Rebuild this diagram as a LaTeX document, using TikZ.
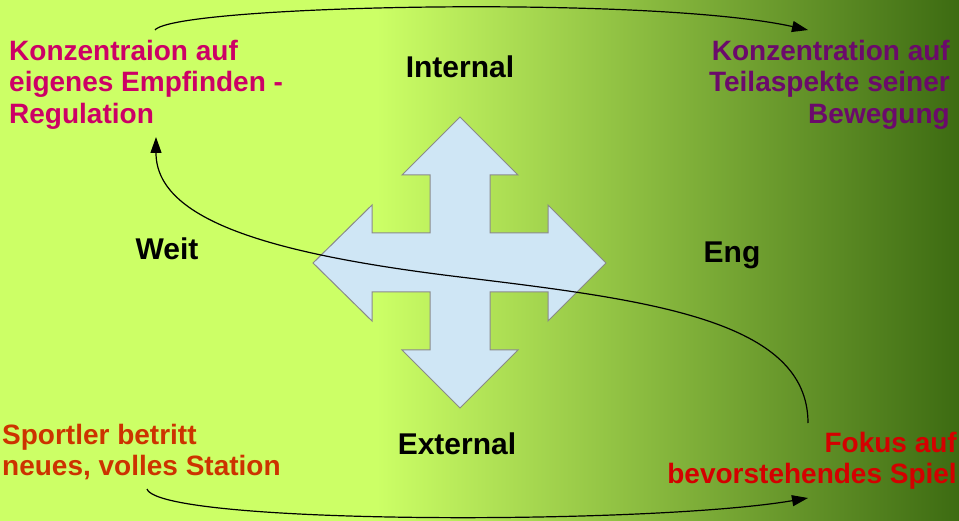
\documentclass[tikz,border=0pt]{standalone}
\usepackage{fontspec}
\setmainfont{Liberation Sans}
\usetikzlibrary{arrows.meta}
\definecolor{bgl}{HTML}{CCFF66}
\definecolor{bgr}{HTML}{3D6B12}
\definecolor{arrfill}{HTML}{CFE6F5}
\definecolor{arrline}{HTML}{8A8A8A}
\definecolor{cmag}{HTML}{CC0066}
\definecolor{cpur}{HTML}{6B0A6B}
\definecolor{corg}{HTML}{CC3300}
\definecolor{cred}{HTML}{D40000}
\tikzset{
  lbl/.style={font=\fontsize{30}{33}\selectfont\bfseries, inner sep=0pt, text=black},
  ctext/.style={font=\fontsize{28}{31.5}\selectfont\bfseries, inner sep=0pt},
  conn/.style={line width=1.2pt, -{Triangle[length=16pt,width=11pt]}},
}
\begin{document}
\begin{tikzpicture}[x=1pt,y=-1pt]
\useasboundingbox (0,0) rectangle (959,521);
\fill[bgl] (0,0) rectangle (378,521);
\shade[left color=bgl, right color=bgr] (377,0) rectangle (959,521);
% cross arrow
\draw[fill=arrfill, draw=arrline, line width=1pt]
  (460,117) -- (518,175) -- (490,175) -- (490,233) -- (548,233) -- (548,205) -- (606,263)
  -- (548,321) -- (548,292) -- (490,292) -- (490,350) -- (518,350) -- (460,408)
  -- (402,350) -- (430,350) -- (430,292) -- (372,292) -- (372,321) -- (313,263)
  -- (372,205) -- (372,233) -- (430,233) -- (430,175) -- (402,175) -- cycle;
% labels
\node[lbl, anchor=base] (int) at (460,78) {Internal};
\node[lbl, anchor=base] (ext) at (457,454) {External};
\node[lbl, anchor=base] (weit) at (167,260) {Weit};
\node[lbl, anchor=base] (eng) at (732,263) {Eng};
% corner texts
\node[ctext, text=cmag, anchor=north west, align=left] (tl) at (9,40)
  {Konzentraion auf\\eigenes Empfinden -\\Regulation};
\node[ctext, text=cpur, anchor=north east, align=right] (tr) at (950,40)
  {Konzentration auf\\Teilaspekte seiner\\Bewegung};
\node[ctext, text=corg, anchor=north west, align=left] (bl) at (2,424)
  {Sportler betritt\\neues, volles Station};
\node[ctext, text=cred, anchor=north east, align=right] (br) at (957,432)
  {Fokus auf\\bevorstehendes Spiel};
% connector end points
\coordinate (tls) at (155,30);
\coordinate (trs) at (808,30);
\coordinate (bls) at (147,489);
\coordinate (brs) at (808,498);
\coordinate (brt) at (808,423);
\coordinate (mid) at (460,277);
\coordinate (tlb) at (156,137);
% connectors
\draw[conn] (tls) .. controls (175,5) and (650,-5) .. (trs);
\draw[conn] (bls) .. controls (160,525) and (650,525) .. (brs);
\draw[conn] (brt) .. controls (808,320) and (650,300) .. (mid)
  .. controls (270,254) and (156,220) .. (tlb);
\end{tikzpicture}
\end{document}
